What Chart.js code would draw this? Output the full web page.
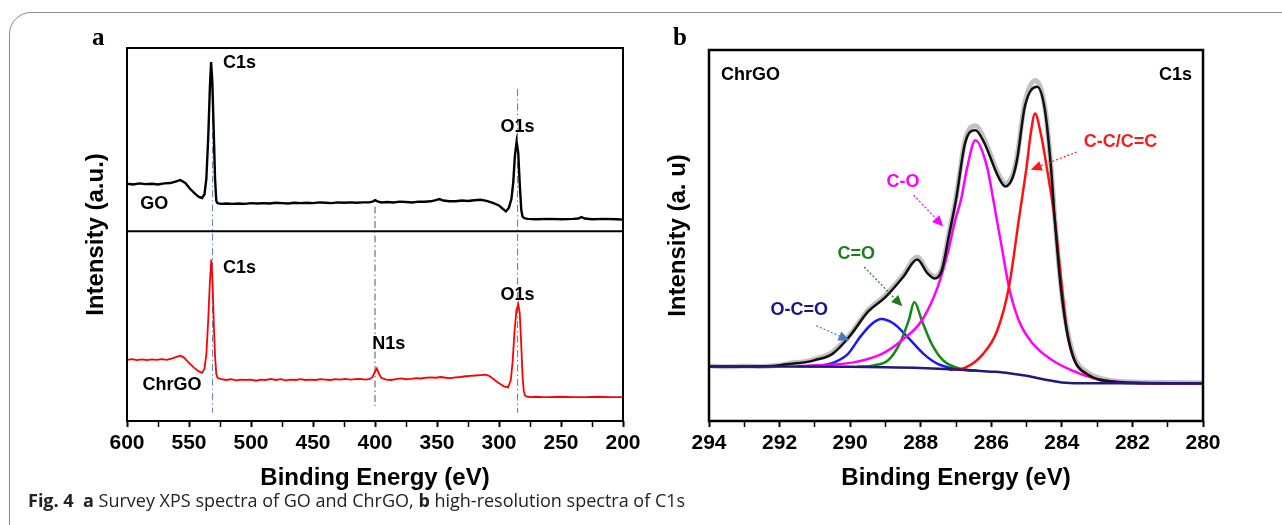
<!DOCTYPE html>
<html>
<head>
<meta charset="utf-8">
<script src="https://cdn.jsdelivr.net/npm/chart.js@4.4.1/dist/chart.umd.min.js"></script>
<style>
  html, body { margin: 0; padding: 0; background: #fff; overflow: hidden; }
  #page { position: relative; width: 1282px; height: 525px; overflow: hidden; }
  #frame { position: absolute; left: 9px; top: 12px; width: 1400px; height: 700px;
           border: 1.5px solid #8a8a8a; border-radius: 22px; }
  #cA { position: absolute; left: 0; top: 0; }
  #cB { position: absolute; left: 660px; top: 0; }
  #caption { position: absolute; left: 28px; top: 489px; font-family: "Open Sans", sans-serif;
             font-size: 18px; line-height: 22px; color: #222; white-space: nowrap; }
</style>
</head>
<body>
<div id="page">
  <div id="frame"></div>
  <canvas id="cA" width="660" height="500"></canvas>
  <canvas id="cB" width="622" height="500"></canvas>
  <div id="caption"><b>Fig. 4</b>&nbsp; <b>a</b> Survey XPS spectra of GO and ChrGO, <b>b</b> high-resolution spectra of C1s</div>
</div>
<script>
// ---- panel a: survey spectra (binding energy eV / intensity a.u.) ----
const goE = [
  600, 595, 590, 585, 580, 575, 570, 565, 561, 557,
  553, 549, 545, 542, 539.5, 537.5, 536, 534.5, 533.2, 532.2,
  531.2, 530, 529, 528, 527, 524, 520, 515, 510, 505,
  500, 495, 490, 485, 480, 475, 470, 465, 460, 455,
  450, 445, 440, 435, 430, 425, 420, 415, 410, 405,
  402, 400, 398, 395, 390, 385, 380, 375, 370, 365,
  360, 355, 351, 348, 345, 340, 335, 330, 325, 320,
  315, 310, 305, 300, 297, 294.4, 292, 290, 288.5, 287.2,
  285.8, 284.5, 283.2, 282, 281, 279.5, 277, 270, 260, 250,
  240, 236, 233.5, 231, 225, 215, 205, 200
];
const goI = [
  63.6, 63.4, 63.7, 63.5, 63.6, 63.4, 63.7, 63.8, 64.2, 64.6,
  63.8, 62.2, 60.9, 60.1, 59.8, 60.8, 65, 76, 89, 96.2,
  91, 77, 65, 59, 58.4, 58.2, 58.3, 58.2, 58.3, 58.2,
  58.4, 58.3, 58.4, 58.3, 58.5, 58.4, 58.3, 58.5, 58.4, 58.5,
  58.4, 58.6, 58.5, 58.4, 58.6, 58.5, 58.6, 58.5, 58.6, 58.6,
  58.8, 59.2, 58.9, 58.6, 58.7, 58.6, 58.8, 58.7, 58.6, 58.8,
  58.8, 58.9, 59.2, 59.5, 59.1, 58.9, 58.9, 59.1, 59.0, 59.2,
  59.3, 59.0, 58.5, 57.8, 56.9, 56.2, 57.2, 59.5, 64, 71,
  74.8, 72, 63, 56.5, 54.8, 54.4, 54.2, 54.1, 54.2, 54.1,
  54.2, 54.3, 54.7, 54.3, 54.1, 54.2, 54.1, 54.0
];
const chrgoE = [
  600, 596, 592, 588, 584, 580, 576, 572, 568, 564,
  560, 557, 554, 550, 546, 542, 539.5, 537.5, 536, 534.5,
  533.2, 532, 531, 530, 529, 528, 527, 524, 520, 516,
  512, 508, 504, 500, 496, 492, 488, 484, 480, 476,
  472, 468, 464, 460, 456, 452, 448, 444, 440, 436,
  432, 428, 424, 420, 416, 412, 408, 404, 402, 400,
  398.5, 397, 395, 391, 387, 383, 379, 375, 371, 367,
  363, 359, 355, 351, 347, 343, 339, 335, 331, 327,
  323, 319, 315, 311, 308, 305, 302, 299, 296, 292.7,
  290.5, 289, 287.5, 286, 284.5, 283.3, 282, 281, 280, 279,
  277, 274, 270, 265, 260, 250, 240, 230, 220, 210,
  200
];
const chrgoI = [
  16.4, 16.6, 16.3, 16.5, 16.3, 16.5, 16.4, 16.6, 16.4, 16.7,
  17.2, 17.5, 17.0, 15.6, 14.3, 13.3, 12.9, 14.0, 18, 27,
  37, 43.3, 37, 26, 17.5, 12.6, 11.6, 11.2, 11.0, 11.2,
  10.9, 11.1, 11.0, 11.1, 10.8, 11.1, 11.0, 11.3, 11.0, 11.2,
  10.9, 11.1, 11.0, 11.2, 11.0, 11.1, 11.0, 11.2, 11.1, 11.0,
  11.2, 11.1, 11.3, 11.1, 11.2, 11.3, 11.1, 11.3, 11.8, 13.2,
  14.1, 12.8, 11.6, 11.1, 11.0, 11.2, 11.4, 11.2, 11.3, 11.5,
  11.4, 11.6, 11.7, 11.6, 11.8, 11.6, 11.5, 11.7, 11.8, 12.0,
  12.1, 12.2, 12.3, 12.4, 12.1, 11.4, 10.6, 9.9, 9.3, 9.0,
  11, 16, 24, 29.5, 31.3, 29, 20, 12, 8, 6.8,
  6.5, 6.4, 6.5, 6.4, 6.4, 6.5, 6.4, 6.4, 6.5, 6.4,
  6.4
];
// peak marker lines: energy, top and bottom intensity
const markE = [531, 400, 285];
const markTop = [93, 57.5, 89];
const markBottom = [2.2, 4, 2.2];
const markColors = ['#5b80c4', '#555555', '#3c9a3c'];
const splitI = 50.9; // line between the GO and ChrGO traces

const majorTicksA = [600, 550, 500, 450, 400, 350, 300, 250, 200];
const minorTicksA = [575, 525, 475, 425, 375, 325, 275, 225];

const labelsA = [
  { text: 'C1s', x: 522.6, y: 96, align: 'left' },
  { text: 'O1s', x: 285, y: 78.7 },
  { text: 'GO', x: 578, y: 58.3 },
  { text: 'C1s', x: 522.6, y: 40.9, align: 'left' },
  { text: 'N1s', x: 389, y: 20.6 },
  { text: 'O1s', x: 285, y: 33.7 },
  { text: 'ChrGO', x: 563.7, y: 9.7 },
];

// ---- panel b: C1s high-resolution spectrum of ChrGO ----
const rawE = [
  294, 293.5, 293, 292.5, 292, 291.7, 291.3, 291, 290.5, 290,
  289.5, 289, 288.5, 288.1, 287.8, 287.6, 287.4, 287.2, 287.0, 286.74,
  286.45, 286.2, 285.8, 285.6, 285.4, 285.27, 285.05, 284.75, 284.48, 284.31,
  284.2, 284.03, 283.86, 283.64, 283.3, 282.9, 282, 281, 280
];
const rawI = [
  14.9, 14.6, 14.8, 14.7, 15.0, 15.6, 16.0, 16.7, 18.6, 23.4,
  29.8, 33.9, 39.3, 44.2, 40.3, 38.9, 41.2, 50.6, 60.2, 75.8,
  79.6, 76.0, 66.6, 64.0, 66.2, 71.2, 85.8, 91.8, 84.5, 69.0,
  54.8, 36.8, 25.2, 17.0, 13.3, 11.5, 10.5, 10.4, 10.3
];
const fitE = [
  294, 293, 292.2, 291.8, 291.3, 291, 290.5, 290, 289.5, 289,
  288.5, 288.1, 287.8, 287.6, 287.4, 287.2, 287.0, 286.74, 286.45, 286.2,
  285.8, 285.6, 285.4, 285.27, 285.05, 284.7, 284.48, 284.31, 284.2, 284.03,
  283.86, 283.64, 283.3, 282.9, 282, 281, 280
];
const fitI = [
  14.7, 14.7, 14.8, 15.3, 15.8, 16.4, 18.1, 23.0, 29.4, 33.4,
  38.8, 43.5, 39.7, 38.4, 40.7, 50, 59.6, 75, 78.4, 75,
  65.8, 63.2, 65.5, 70.4, 84.7, 90.1, 83.8, 68.5, 54.2, 36.1,
  24.4, 16.3, 12.7, 11.1, 10.3, 10.2, 10.2
];
const ccE = [287.2, 286.74, 286.23, 285.83, 285.5, 285.22, 285.0, 284.88, 284.76, 284.6,
  284.43, 284.2, 284.0, 283.86, 283.64, 283.24, 282.9, 282.3, 281.5, 280];
const ccI = [13.8, 14.4, 18.1, 24.4, 36.1, 54.2, 68.5, 77.6, 82.9, 77.6,
  68.5, 54.2, 36.1, 24.4, 16.3, 12.4, 10.9, 10.3, 10.2, 10.2];
const coE = [291.5, 290.9, 289.9, 289.1, 288.54, 287.97, 287.52, 287.24, 287.02, 286.85,
  286.68, 286.45, 286.12, 285.95, 285.82, 285.67, 285.5, 285.22, 284.82, 284.26,
  283.58, 283.02, 282.34, 281.5, 280];
const coI = [14.8, 15.0, 15.8, 18.1, 21.7, 27.1, 36.1, 45.1, 54.2, 60,
  68.5, 75.7, 68.5, 60, 53, 45.1, 36.1, 27.1, 20.8, 16.3,
  13.1, 11.3, 10.5, 10.2, 10.2];
const c_oE = [289.8, 289.33, 288.93, 288.6, 288.34, 288.18, 287.97, 287.69, 287.36, 286.85, 286.4];
const c_oI = [14.6, 15.0, 16.3, 20.8, 27.1, 32.1, 27.1, 20.8, 16.3, 14.0, 13.6];
const ocoE = [291.2, 290.8, 290.45, 290.06, 289.72, 289.38, 289.12, 288.76, 288.37, 287.92, 287.52, 286.96, 286.5];
const ocoI = [14.8, 15.0, 15.8, 18.1, 22.6, 26.2, 27.5, 26.2, 22.6, 18.1, 15.4, 14.0, 13.6];
const bgE = [294, 292, 290, 289, 288, 287, 286, 285.5, 285, 284.5, 284, 283.5, 282, 280];
const bgI = [14.7, 14.7, 14.6, 14.5, 14.3, 13.9, 13.3, 12.9, 12.2, 11.2, 10.4, 10.2, 10.2, 10.2];

const majorTicksB = [294, 292, 290, 288, 286, 284, 282, 280];
const minorTicksB = [293, 291, 289, 287, 285, 283, 281];

const labelsB = [
  { text: 'ChrGO', x: 293.66, y: 93.3, align: 'left' },
  { text: 'C1s', x: 280.31, y: 93.3, align: 'right' },
  { text: 'C-C/C=C', x: 282.34, y: 75.3, color: '#ff1a1a' },
  { text: 'C-O', x: 288.5, y: 64.5, color: '#ff00ff' },
  { text: 'C=O', x: 289.83, y: 45.1, color: '#1e7d1e' },
  { text: 'O-C=O', x: 291.44, y: 29.8, color: '#14148c' },
];
const arrowsB = [
  { from: [283.58, 72.5], to: [284.88, 67.7], color: '#ff1a1a' },
  { from: [288.2, 60.9], to: [287.36, 52.4], color: '#ff00ff' },
  { from: [289.6, 41.5], to: [288.52, 30.9], color: '#1e7d1e' },
  { from: [290.96, 25.7], to: [290.02, 21.7], color: '#4a78c8' },
];

Chart.defaults.font.family = '"Liberation Sans", Arial, sans-serif';

const toXY = (xs, ys) => xs.map((x, i) => ({ x, y: ys[i] }));

function energyAxis(min, max, majors, minors) {
  return {
    type: 'linear', min, max, reverse: true,
    afterBuildTicks: (s) => {
      s.ticks = majors.concat(minors).sort((p, q) => p - q).map((value) => ({ value }));
    },
    afterFit: (s) => { s.height = 74; },
    ticks: {
      autoSkip: false, maxRotation: 0, padding: 4, color: '#000',
      font: { size: 21, weight: 'bold' },
      callback: (v) => (majors.includes(v) ? String(v) : ''),
    },
    grid: {
      drawOnChartArea: false, drawTicks: true, tickLength: 6, tickColor: '#000',
      tickWidth: (c) => (c.tick && majors.includes(c.tick.value) ? 2 : 1.5),
    },
    border: { display: false },
    title: {
      display: true, text: 'Binding Energy (eV)', color: '#000',
      font: { size: 24, weight: 'bold' }, padding: { top: 8, bottom: 2 },
    },
  };
}

function intensityAxis(text, width, padTop) {
  return {
    min: 0, max: 100,
    ticks: { display: false }, grid: { display: false }, border: { display: false },
    afterFit: (s) => { s.width = width; },
    title: {
      display: true, text, color: '#000',
      font: { size: 24, weight: 'bold' }, padding: { top: padTop, bottom: 0 },
    },
  };
}

function panelPlugin(opts) {
  return {
    id: 'panel',
    afterDatasetsDraw(chart) {
      const { ctx, chartArea: a, scales: { x, y } } = chart;
      ctx.save();
      ctx.strokeStyle = '#000';
      ctx.lineWidth = opts.frameWidth;
      ctx.strokeRect(a.left, a.top, a.right - a.left, a.bottom - a.top);

      for (const ar of opts.arrows || []) {
        const x1 = x.getPixelForValue(ar.from[0]), y1 = y.getPixelForValue(ar.from[1]);
        const x2 = x.getPixelForValue(ar.to[0]), y2 = y.getPixelForValue(ar.to[1]);
        const ang = Math.atan2(y2 - y1, x2 - x1);
        const c = Math.cos(ang), s = Math.sin(ang);
        ctx.strokeStyle = ar.color;
        ctx.fillStyle = ar.color;
        ctx.lineWidth = 1.2;
        ctx.setLineDash([2, 2]);
        ctx.beginPath();
        ctx.moveTo(x1, y1);
        ctx.lineTo(x2 - 9 * c, y2 - 9 * s);
        ctx.stroke();
        ctx.setLineDash([]);
        ctx.beginPath();
        ctx.moveTo(x2, y2);
        ctx.lineTo(x2 - 11 * c + 5 * s, y2 - 11 * s - 5 * c);
        ctx.lineTo(x2 - 11 * c - 5 * s, y2 - 11 * s + 5 * c);
        ctx.closePath();
        ctx.fill();
      }

      ctx.font = 'bold 18px "Liberation Sans", Arial, sans-serif';
      ctx.textBaseline = 'middle';
      for (const t of opts.labels) {
        ctx.fillStyle = t.color || '#000';
        ctx.textAlign = t.align || 'center';
        ctx.fillText(t.text, x.getPixelForValue(t.x), y.getPixelForValue(t.y));
      }

      ctx.font = 'bold 25px "Liberation Serif", "Times New Roman", serif';
      ctx.fillStyle = '#000';
      ctx.textAlign = 'left';
      ctx.textBaseline = 'alphabetic';
      ctx.fillText(opts.letter, opts.letterX, 45);
      ctx.restore();
    },
  };
}

const lineDefaults = { showLine: true, pointRadius: 0, fill: false };

const datasetsA = [
  { ...lineDefaults, label: 'split', data: [{ x: 600, y: splitI }, { x: 200, y: splitI }],
    borderColor: '#000', borderWidth: 2, order: 0 },
  { ...lineDefaults, label: 'GO', data: toXY(goE, goI), borderColor: '#000', borderWidth: 2.4, order: 1 },
  { ...lineDefaults, label: 'ChrGO', data: toXY(chrgoE, chrgoI), borderColor: '#ff0000', borderWidth: 1.8, order: 2 },
].concat(markE.map((e, i) => ({
  ...lineDefaults, label: 'mark' + i,
  data: [{ x: e, y: markTop[i] }, { x: e, y: markBottom[i] }],
  borderColor: markColors[i], borderWidth: 1, borderDash: [7, 3, 1.5, 3], order: 5,
})));

new Chart(document.getElementById('cA'), {
  type: 'scatter',
  data: { datasets: datasetsA },
  options: {
    responsive: false, animation: false, devicePixelRatio: 1,
    layout: { padding: { left: 70, right: 37, top: 48, bottom: 5 } },
    plugins: { legend: { display: false }, tooltip: { enabled: false } },
    scales: {
      x: energyAxis(200, 600, majorTicksA, minorTicksA),
      y: intensityAxis('Intensity (a.u.)', 57, 11.6),
    },
  },
  plugins: [panelPlugin({ labels: labelsA, frameWidth: 2, letter: 'a', letterX: 92 })],
});

const smooth = { ...lineDefaults, cubicInterpolationMode: 'monotone' };

new Chart(document.getElementById('cB'), {
  type: 'scatter',
  data: {
    datasets: [
      { ...smooth, label: 'background', data: toXY(bgE, bgI), borderColor: '#1c1c7a', borderWidth: 2.5, order: 0 },
      { ...smooth, label: 'fit', data: toXY(fitE, fitI), borderColor: '#111', borderWidth: 2.5, order: 1 },
      { ...smooth, label: 'C-C/C=C', data: toXY(ccE, ccI), borderColor: '#ff1010', borderWidth: 2.5, order: 2 },
      { ...smooth, label: 'C-O', data: toXY(coE, coI), borderColor: '#ff00ff', borderWidth: 2.5, order: 3 },
      { ...smooth, label: 'C=O', data: toXY(c_oE, c_oI), borderColor: '#138a13', borderWidth: 2.5, order: 4 },
      { ...smooth, label: 'O-C=O', data: toXY(ocoE, ocoI), borderColor: '#1a1aee', borderWidth: 2.5, order: 5 },
      { ...smooth, label: 'raw', data: toXY(rawE, rawI), borderColor: '#c2c2c2', borderWidth: 5, order: 6 },
    ],
  },
  options: {
    responsive: false, animation: false, devicePixelRatio: 1,
    layout: { padding: { left: 0, right: 79, top: 50, bottom: 5 } },
    plugins: { legend: { display: false }, tooltip: { enabled: false } },
    scales: {
      x: energyAxis(280, 294, majorTicksB, minorTicksB),
      y: intensityAxis('Intensity (a. u)', 49, 4),
    },
  },
  plugins: [panelPlugin({ labels: labelsB, arrows: arrowsB, frameWidth: 2.5, letter: 'b', letterX: 13 })],
});
</script>
</body>
</html>
